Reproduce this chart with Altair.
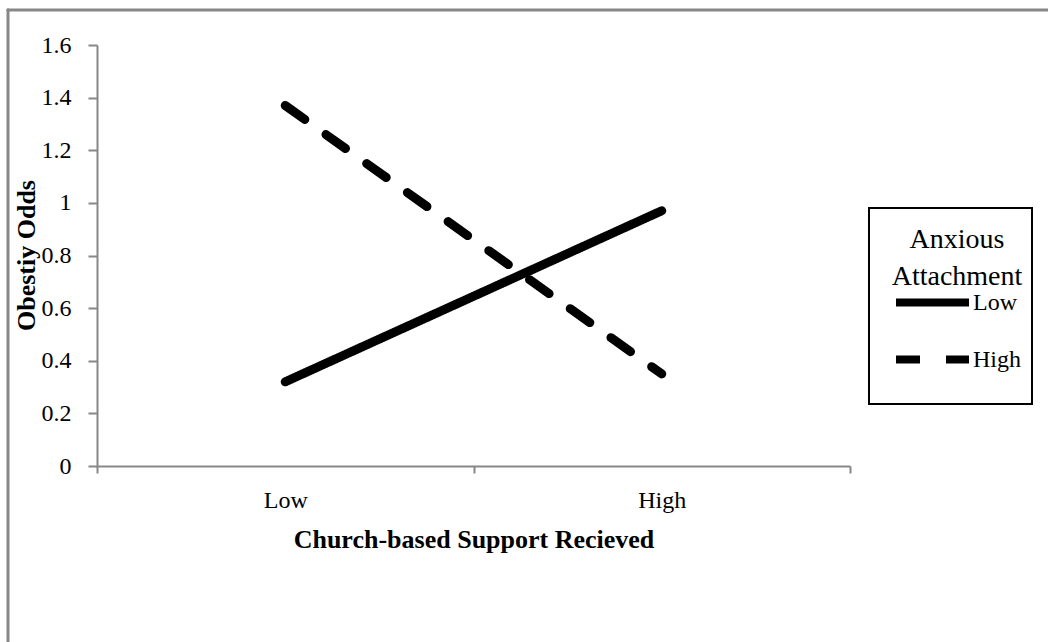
import altair as alt
import pandas as pd

support_levels = ["Low", "High"]
anxious_groups = ["Low", "High"]
low_anxious_odds = [0.32, 0.97]
high_anxious_odds = [1.37, 0.35]
y_ticks = [0, 0.2, 0.4, 0.6, 0.8, 1.0, 1.2, 1.4, 1.6]

rows = []
for lvl, v in zip(support_levels, low_anxious_odds):
    rows.append({"Support": lvl, "Anxious": "Low", "Odds": v})
for lvl, v in zip(support_levels, high_anxious_odds):
    rows.append({"Support": lvl, "Anxious": "High", "Odds": v})
df = pd.DataFrame(rows)

SERIF = "Liberation Serif"
GRAY = "#878787"

lines = alt.Chart(df).mark_line(color="black", strokeWidth=9, strokeCap="round").encode(
    x=alt.X(
        "Support:N",
        sort=support_levels,
        bandPosition=0.5,
        scale=alt.Scale(type="band", paddingInner=0, paddingOuter=0),
        axis=alt.Axis(
            title="Church-based Support Recieved",
            labelAngle=0,
            tickBand="extent",
            labelFont=SERIF, labelFontSize=24, labelColor="black",
            labelBaseline="alphabetic", labelPadding=34,
            tickSize=7, tickColor=GRAY, tickWidth=2,
            domainColor=GRAY, domainWidth=2,
            titleFont=SERIF, titleFontSize=26, titleFontWeight="bold", titleColor="black",
            titleBaseline="alphabetic", titleY=81,
        ),
    ),
    y=alt.Y(
        "Odds:Q",
        scale=alt.Scale(domain=[0, 1.6], nice=False),
        axis=alt.Axis(
            title="Obestiy Odds",
            values=y_ticks, format="~g", grid=False,
            labelFont=SERIF, labelFontSize=24, labelColor="black", labelPadding=17,
            tickSize=9, tickColor=GRAY, tickWidth=2,
            domainColor=GRAY, domainWidth=2,
            titleFont=SERIF, titleFontSize=26, titleFontWeight="bold", titleColor="black",
            titleAngle=270, titleBaseline="bottom", titleX=-58, titleY=210,
        ),
    ),
    strokeDash=alt.StrokeDash(
        "Anxious:N",
        sort=anxious_groups,
        scale=alt.Scale(domain=anxious_groups, range=[[1, 0], [24, 26]]),
        legend=alt.Legend(
            title=["Anxious", "Attachment"],
            orient="none", legendX=781, legendY=167, direction="vertical",
            padding=14,
            titleFont=SERIF, titleFontSize=28, titleFontWeight="normal", titleColor="black",
            titleAlign="center", titleAnchor="middle", titleLineHeight=37,
            titlePadding=-29, rowPadding=-5,
            labelFont=SERIF, labelFontSize=24, labelColor="black", labelOffset=0,
            symbolType="stroke", symbolSize=5329, symbolStrokeWidth=8,
            symbolStrokeColor="black",
        ),
    ),
)

frame_top = alt.Chart(alt.Data(values=[{"t": 1}])).mark_rect(
    fill=GRAY, stroke=GRAY, strokeWidth=1
).encode(x=alt.value(-90), x2=alt.value(1000), y=alt.value(-36), y2=alt.value(-34))

frame_left = alt.Chart(alt.Data(values=[{"l": 1}])).mark_rect(
    fill=GRAY, stroke=GRAY, strokeWidth=1
).encode(x=alt.value(-90), x2=alt.value(-88), y=alt.value(-36), y2=alt.value(1000))

legend_box = alt.Chart(alt.Data(values=[{"b": 1}])).mark_rect(
    fill="white", stroke="black", strokeWidth=2
).encode(x=alt.value(772), x2=alt.value(935), y=alt.value(163), y2=alt.value(359))

chart = alt.layer(frame_top, frame_left, legend_box, lines).properties(
    width=753, height=421,
    autosize=alt.AutoSizeParams(type="none"),
    padding={"left": 97, "top": 45, "right": 198, "bottom": 176},
).configure_view(stroke=None)

chart.save("out.html", embed_options={"renderer": "svg", "actions": False})
